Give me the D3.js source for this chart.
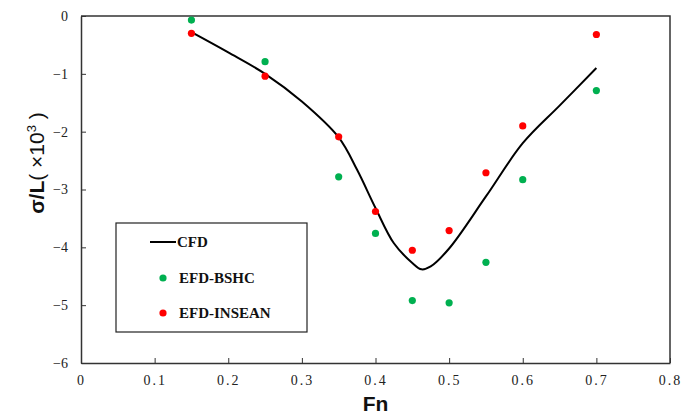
<!DOCTYPE html>
<html>
<head>
<meta charset="utf-8">
<script src="https://cdn.jsdelivr.net/npm/d3@7"></script>
<style>
  body { margin: 0; background: #fff; }
  svg { display: block; }
</style>
</head>
<body>
<script>
'use strict';

// CFD curve (Fn, sigma/L x10^3)
const cfdFn  = [0.15, 0.2, 0.25, 0.3, 0.35, 0.375, 0.4, 0.425, 0.45, 0.4625, 0.475, 0.5, 0.55, 0.6, 0.65, 0.7];
const cfdVal = [-0.28, -0.63, -1.0, -1.48, -2.1, -2.66, -3.32, -3.93, -4.27, -4.38, -4.33, -4.02, -3.12, -2.2, -1.55, -0.9];

// experiments
const efdFn     = [0.15, 0.25, 0.35, 0.4, 0.45, 0.5, 0.55, 0.6, 0.7];
const bshcVal   = [-0.07, -0.79, -2.78, -3.76, -4.92, -4.96, -4.26, -2.83, -1.29];
const inseanVal = [-0.30, -1.04, -2.09, -3.38, -4.05, -3.71, -2.71, -1.90, -0.32];

const xTicks = [0, 0.1, 0.2, 0.3, 0.4, 0.5, 0.6, 0.7, 0.8];
const yTicks = [0, -1, -2, -3, -4, -5, -6];

const W = 683, H = 419;
const margin = {top: 16, right: 13, bottom: 56, left: 81};

const svg = d3.select("body").append("svg")
  .attr("width", W)
  .attr("height", H);

const x = d3.scaleLinear().domain([0, 0.8]).range([margin.left, W - margin.right]);
const y = d3.scaleLinear().domain([-6, 0]).range([H - margin.bottom, margin.top]);

const axisColor = "#333";
const tickFont = "'Liberation Serif', 'DejaVu Serif', serif";

// frame (top and right)
svg.append("path")
  .attr("d", `M${x(0)},${y(0)}H${x(0.8)}V${y(-6)}`)
  .attr("fill", "none")
  .attr("stroke", axisColor)
  .attr("stroke-width", 1.5);

// x axis
const gx = svg.append("g")
  .attr("transform", `translate(0,${y(-6)})`)
  .call(d3.axisBottom(x).tickValues(xTicks).tickSizeInner(-5).tickSizeOuter(0)
    .tickPadding(12).tickFormat(d => d === 0 ? "0" : d3.format(".1f")(d)));
gx.select(".domain").attr("stroke", axisColor).attr("stroke-width", 1.5);
gx.selectAll(".tick line").attr("stroke", axisColor);
gx.selectAll("text").attr("font-family", tickFont).attr("font-size", 14).attr("fill", "#222")
  .attr("letter-spacing", 2);

// y axis
const gy = svg.append("g")
  .attr("transform", `translate(${x(0)},0)`)
  .call(d3.axisLeft(y).tickValues(yTicks).tickSizeInner(-5).tickSizeOuter(0)
    .tickPadding(13).tickFormat(d => d === 0 ? "0" : "\u2212" + Math.abs(d)));
gy.select(".domain").attr("stroke", axisColor).attr("stroke-width", 1.5);
gy.selectAll(".tick line").attr("stroke", axisColor);
gy.selectAll("text").attr("font-family", tickFont).attr("font-size", 14).attr("fill", "#222");

// axis titles
svg.append("text")
  .attr("x", x(0.4))
  .attr("y", 411)
  .attr("text-anchor", "middle")
  .attr("font-family", "'Liberation Sans', Arial, sans-serif")
  .attr("font-weight", "bold")
  .attr("font-size", 21)
  .attr("fill", "#111")
  .text("Fn");

const yTitle = svg.append("text")
  .attr("transform", "translate(44,163) rotate(-90)")
  .attr("text-anchor", "middle")
  .attr("font-family", "'Liberation Sans', Arial, sans-serif")
  .attr("font-size", 21)
  .attr("fill", "#111");
yTitle.append("tspan").attr("font-weight", "bold").text("σ/L");
yTitle.append("tspan").text("( ×10");
yTitle.append("tspan").attr("font-size", 13).attr("dy", -8).text("3");
yTitle.append("tspan").attr("dy", 8).text(" )");

// CFD line
const cfd = cfdFn.map((f, i) => [f, cfdVal[i]]);
svg.append("path")
  .datum(cfd)
  .attr("fill", "none")
  .attr("stroke", "#000")
  .attr("stroke-width", 2)
  .attr("d", d3.line().x(d => x(d[0])).y(d => y(d[1])).curve(d3.curveCatmullRom.alpha(0.5)));

// points
const green = "#00b050", red = "#ff0000";
svg.append("g").selectAll("circle")
  .data(efdFn.map((f, i) => [f, bshcVal[i]]))
  .join("circle")
  .attr("cx", d => x(d[0]))
  .attr("cy", d => y(d[1]))
  .attr("r", 3.6)
  .attr("fill", green);

svg.append("g").selectAll("circle")
  .data(efdFn.map((f, i) => [f, inseanVal[i]]))
  .join("circle")
  .attr("cx", d => x(d[0]))
  .attr("cy", d => y(d[1]))
  .attr("r", 3.6)
  .attr("fill", red);

// legend
const lg = svg.append("g").attr("transform", "translate(116,223)");
lg.append("rect")
  .attr("width", 191)
  .attr("height", 109)
  .attr("fill", "#fff")
  .attr("stroke", "#222")
  .attr("stroke-width", 1.2);

const legendFont = "'Liberation Serif', 'Times New Roman', serif";
lg.append("line")
  .attr("x1", 34).attr("x2", 60)
  .attr("y1", 19).attr("y2", 19)
  .attr("stroke", "#000").attr("stroke-width", 2);

const legendItems = [
  {label: "CFD", dy: 19, tx: 61},
  {label: "EFD-BSHC", dy: 55, tx: 63, color: green},
  {label: "EFD-INSEAN", dy: 90, tx: 63, color: red}
];
legendItems.forEach(it => {
  if (it.color) {
    lg.append("circle").attr("cx", 47).attr("cy", it.dy).attr("r", 3.6).attr("fill", it.color);
  }
  lg.append("text")
    .attr("x", it.tx)
    .attr("y", it.dy)
    .attr("dy", "0.35em")
    .attr("font-family", legendFont)
    .attr("font-weight", "bold")
    .attr("font-size", 15)
    .attr("fill", "#111")
    .text(it.label);
});
</script>
</body>
</html>
